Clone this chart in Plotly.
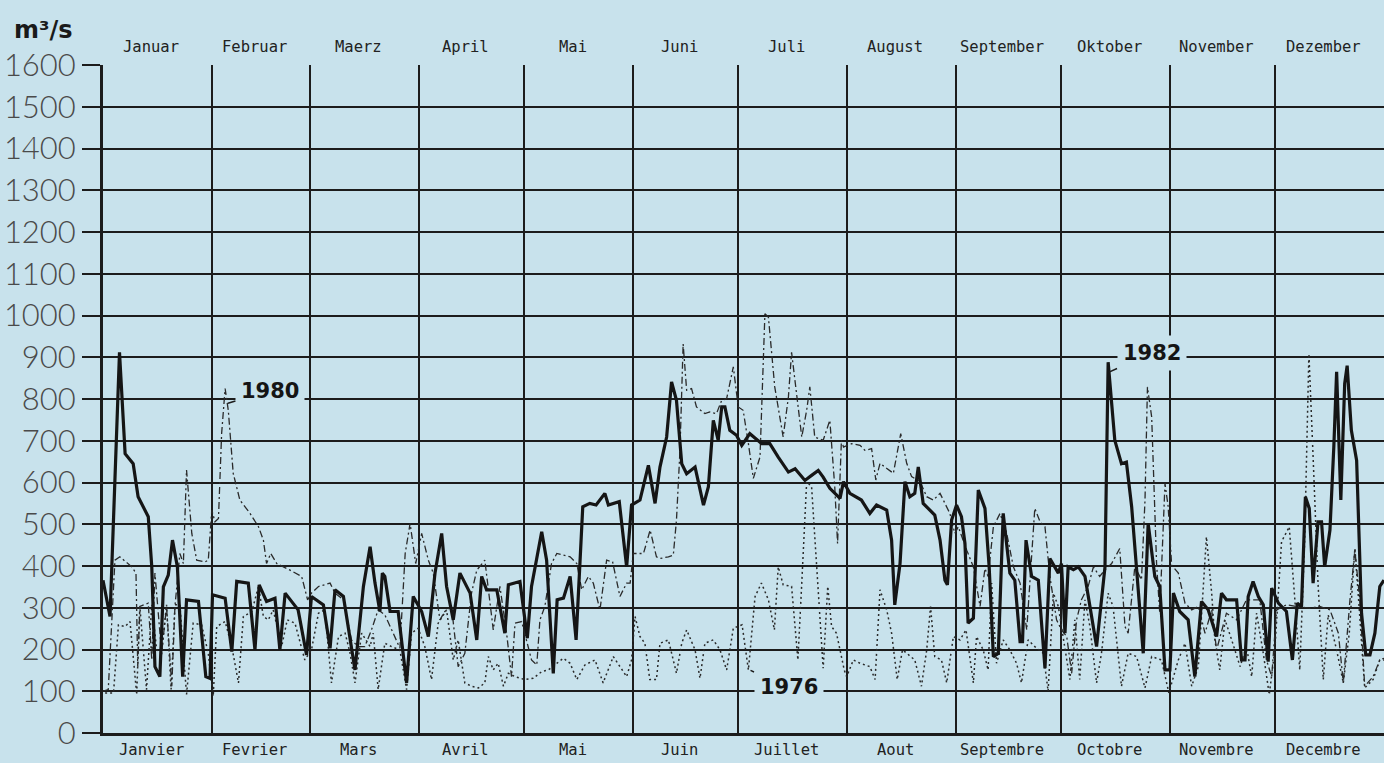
import plotly.graph_objects as go

# ---------------- data ----------------
months_de = ["Januar", "Februar", "Maerz", "April", "Mai", "Juni", "Juli",
             "August", "September", "Oktober", "November", "Dezember"]
months_fr = ["Janvier", "Fevrier", "Mars", "Avril", "Mai", "Juin", "Juillet",
             "Aout", "Septembre", "Octobre", "Novembre", "Decembre"]
month_starts = [0, 31, 59, 90, 120, 151, 181, 212, 243, 273, 304, 334, 365]
y_ticks = list(range(0, 1700, 100))

days_1982 = [0, 2, 4.7, 6.3, 8.6, 10, 12.9, 13.9, 14.8, 16.2, 17.2, 18.6, 19.8, 21.2, 22.7, 23.8,
             27.2, 29.3, 30.5, 31.2, 34.8, 36.7, 38.1, 41.4, 43.3, 44.5, 46.6, 49, 50.4, 51.9,
             55.6, 58, 59.4, 62.8, 64.7, 66.1, 68.5, 71.8, 74.2, 76.1, 77.5, 78.9, 79.6, 80.3,
             81.8, 84.1, 86.5, 88.4, 90.8, 92.7, 94.6, 96.5, 97.9, 99.8, 101.7, 104.6, 106.5,
             107.9, 109.3, 112.2, 114.5, 115.5, 118.8, 120.9, 122.1, 125, 126.4, 128.3, 129.4,
             131.2, 133.1, 134.8, 136.7, 138.7, 140.5, 143, 144, 147.1, 149.2, 150.6, 153, 155.4,
             157.3, 158.7, 160.6, 162, 163.4, 164.9, 166.3, 168.7, 171.1, 172.5, 173.9, 175.3,
             176.3, 177.2, 178.6, 180.5, 182, 184.3, 187.7, 190, 192.4, 195.3, 197.2, 200, 201.9,
             203.8, 205.2, 207.1, 210, 211, 212.8, 214.7, 216.1, 218.5, 220.4, 223.3, 224.7,
             225.6, 227.1, 228.5, 229.9, 231.3, 232.3, 233.7, 237, 238.5, 239.9, 240.6, 241.8,
             243.2, 244.6, 245.6, 246.5, 248, 249.4, 251.3, 252.5, 253.7, 255.1, 256.5, 258.4,
             259.8, 261.3, 262, 263, 264.6, 266.5, 268.4, 269.8, 272.2, 273.1, 274.1, 275, 276.5,
             277.9, 279.8, 283.1, 285.5, 286.4, 288.3, 290.2, 291.6, 293.1, 296.4, 297.8, 299.7,
             301.1, 302.6, 304, 305, 306.8, 309.2, 311.1, 313, 314.9, 317.3, 318.7, 320.1, 323,
             324.4, 325.4, 326.3, 327.7, 329.2, 330.6, 332, 333, 334.9, 337.2, 338.9, 340.3,
             341.5, 342.6, 343.7, 344.8, 346.2, 347.2, 348.1, 349.6, 350.7, 351.5, 352.7, 353.8,
             354.5, 355.7, 357.2, 358.6, 359.8, 361, 362.4, 363.8, 365]
flow_1982 = [366, 279, 912, 669, 645, 566, 518, 398, 159, 135, 350, 378, 462, 398, 135, 319,
             315, 135, 131, 331, 323, 195, 363, 359, 199, 355, 315, 323, 199, 335,
             295, 187, 327, 307, 203, 343, 327, 151, 351, 446, 359, 291, 383, 375,
             291, 291, 120, 327, 291, 231, 383, 478, 351, 271, 383, 335, 223,
             375, 343, 343, 239, 355, 363, 227, 351, 482, 414, 143, 319,
             323, 375, 223, 542, 550, 546, 574, 546, 554, 398, 546, 558, 641,
             550, 637, 709, 841, 797, 645, 621, 637, 546, 590, 749, 701,
             781, 781, 725, 713, 689, 717, 693, 693, 661, 625, 633, 605, 617,
             629, 613, 586, 562, 602, 574, 566, 558, 526, 546, 534, 462,
             307, 406, 602, 566, 574, 637, 550, 522, 462, 366, 355, 510,
             546, 518, 454, 263, 275, 582, 538, 398, 183, 191, 526, 383,
             366, 219, 219, 462, 375, 366, 155, 418, 383, 406, 239, 398, 391,
             398, 375, 207, 398, 888, 701, 645, 649, 542, 191, 502, 375,
             351, 151, 151, 335, 291, 271, 135, 315, 295, 231, 335, 319, 319,
             175, 175, 327, 363, 327, 307, 171, 347, 311, 291, 175, 311,
             303, 566, 538, 359, 506, 506, 398, 486, 685, 865, 558, 837,
             880, 725, 653, 287, 187, 187, 239, 351, 366]

days_1980 = [0, 1.5, 3.4, 4.8, 8.2, 9.4, 9.9, 10.5, 12.9, 13.9, 14.8, 16.7, 18.1, 19.6, 20.5,
             21.9, 22.9, 23.8, 25.3, 26.7, 29.1, 30, 31, 31.9, 32.9, 33.8, 34.8, 35.7, 37.1, 39,
             41.9, 44.3, 45.7, 46.6, 47.8, 49.5, 53.3, 56.6, 58.3, 59.4, 61.4, 64.7, 66.1, 68.5,
             70.8, 72.7, 74.6, 76.5, 78.4, 80.3, 82.7, 84.6, 86.1, 87.5, 89.1, 90.8, 92.7, 94.1,
             96, 97.4, 99.3, 101.2, 103.1, 105, 106.5, 108.8, 111.2, 113.1, 115, 116.4, 117.4,
             119.3, 122.1, 123.6, 124.5, 125.9, 127.8, 129.3, 133.1, 135, 136.4, 138.3, 139.7,
             141.6, 143.5, 145.2, 147.3, 149.2, 150.2, 151.1, 154, 155.9, 157.7, 158.7, 161.1,
             162.5, 163.4, 164.4, 165.3, 166.3, 167.7, 169.1, 171.5, 172.9, 174.8, 176.3, 177.7,
             179.6, 181, 182.4, 183.9, 185.3, 187.2, 188.6, 189.6, 191.4, 193.8, 195.3, 196.2,
             197.2, 199.1, 200.5, 201.4, 202.8, 205.2, 207.1, 208.5, 209.3, 210.4, 211, 213.3,
             215.7, 217.1, 219, 220.2, 221.4, 223.3, 225.2, 227.3, 229, 230.4, 232.8, 234.7,
             236.6, 238.5, 241.3, 242.7, 243.7, 246.1, 248, 249.9, 251.3, 252.2, 253.7, 255.6,
             257.5, 259.4, 261.3, 263.2, 264.6, 265.5, 267, 268.4, 269.8, 271.7, 273.1, 274.6,
             276, 277.4, 278.8, 280.7, 282.2, 284, 285.5, 287.4, 289.7, 291.2, 292.1, 294, 295.9,
             296.9, 297.6, 298.8, 300.2, 301.1, 302.6, 303.5, 304.5, 306.4, 308.3, 310.2, 312.1,
             314, 315.9, 317.3, 320.1, 323, 325.8, 329.6, 331.5, 333, 334.4, 337.2, 340.1, 343.9,
             346.7, 349.6, 352, 353.4, 355.3, 356.7, 358.1, 359.5, 361.9, 363.8, 365]
flow_1980 = [100, 104, 414, 422, 398, 383, 159, 303, 311, 175, 383, 191, 303, 112, 303,
             430, 406, 630, 478, 414, 410, 414, 534, 506, 514, 717, 825, 773, 622, 558,
             526, 494, 462, 406, 430, 406, 390, 375, 319, 335, 351, 359, 335, 319,
             223, 207, 207, 247, 295, 283, 239, 203, 430, 502, 406, 478, 414, 383,
             271, 291, 303, 159, 191, 335, 390, 414, 247, 351, 239, 135, 263,
             267, 175, 163, 271, 303, 406, 430, 422, 406, 343, 375, 359,
             295, 414, 410, 327, 359, 359, 430, 430, 486, 422, 418, 422,
             426, 510, 677, 932, 821, 825, 781, 765, 769, 765, 797, 801,
             877, 781, 773, 693, 610, 661, 1004, 996, 829, 709, 805, 912,
             845, 709, 773, 829, 709, 701, 749, 590, 454, 701, 685, 693,
             689, 677, 681, 606, 646, 634, 622, 717, 646, 614, 602, 566,
             558, 574, 526, 478, 494, 438, 398, 303, 394, 375, 494, 526,
             478, 398, 359, 247, 414, 538, 506, 494, 375, 271, 247, 231,
             143, 271, 319, 351, 398, 375, 391, 406, 442, 255, 239, 398, 367,
             558, 829, 757, 406, 287, 598, 542, 402, 383, 311, 295, 303,
             239, 295, 199, 287, 271, 319, 319, 175, 135, 295, 307, 303, 299,
             303, 295, 239, 120, 319, 438, 319, 112, 135, 175, 179]

days_1976 = [0.6, 3, 4.4, 6.3, 7.7, 8.6, 9.6, 10.5, 12.4, 13.9, 15.3, 16.7, 18.1, 19.4, 20.5,
             21.9, 23.8, 25.7, 28.1, 30, 31.4, 32.4, 34.8, 36.7, 38.6, 40, 42.4, 44.3, 45.7,
             47.1, 48.5, 50.9, 52.5, 54.7, 57.5, 59.4, 61.4, 63.2, 65.1, 67.1, 69, 70.4, 71.8,
             73.7, 76.1, 77, 78.4, 80.3, 82.2, 84.6, 86.5, 87.9, 89.8, 91.7, 93.6, 95.5, 97.9,
             99.8, 101.2, 103.1, 105, 107, 108.8, 109.8, 111.2, 112.6, 114.1, 115.5, 117.4,
             120.2, 122.6, 125, 126.9, 129.3, 131.2, 133.1, 135, 137.3, 140.2, 142.5, 145.4,
             147.3, 149.2, 150.6, 151.6, 153, 154.4, 155.8, 157.7, 158.7, 161.1, 163.4, 164.9,
             166.3, 168.7, 170.1, 171.5, 173.9, 175.8, 177.7, 179.6, 182.1, 183.9, 185.8, 187.6,
             189.6, 191.3, 192.4, 193.8, 196.2, 198, 199.1, 200.5, 201.9, 203.8, 205.2, 206.5,
             207.6, 209, 211.2, 211.9, 213.8, 215.7, 218.5, 220, 221.4, 223.3, 224.7, 226.3,
             227.8, 229, 231.3, 233.2, 234.7, 235.8, 237, 238.9, 240.4, 242.3, 244.2, 245.9, 248,
             248.9, 250.8, 252.2, 253.2, 254.6, 256.5, 258.4, 260.3, 261.7, 263.6, 265.5, 267.9,
             269.3, 270.8, 272.2, 275.5, 276.9, 278.3, 279.8, 281.2, 283.1, 284.5, 286.4, 287.8,
             290.2, 292.1, 294.5, 296.9, 298.8, 301.6, 303.7, 306.4, 308.3, 310.2, 312.1, 314.4,
             315.9, 316.8, 318.2, 319.7, 321.6, 324, 325.8, 327.3, 328.7, 330.6, 332.3, 333.9,
             335.8, 338, 339.6, 341, 342.4, 343.6, 344.8, 346.2, 347.7, 349.1, 351.5, 353.4,
             355.1, 356.7, 357.9, 359.5, 361.9, 363.8, 365]
flow_1976 = [96, 96, 259, 255, 267, 191, 92, 303, 104, 307, 199, 191, 307, 104, 307,
             307, 92, 263, 259, 191, 88, 255, 267, 207, 120, 279, 291, 351, 279,
             271, 295, 207, 271, 263, 175, 199, 287, 295, 120, 231, 239, 191, 120,
             239, 207, 239, 104, 215, 207, 199, 104, 239, 251, 207, 128, 263, 295,
             175, 223, 120, 112, 108, 120, 183, 151, 167, 112, 143, 135,
             128, 131, 147, 151, 167, 179, 167, 128, 163, 175, 120, 183,
             159, 135, 175, 279, 231, 215, 128, 128, 215, 223, 143, 215,
             247, 199, 131, 215, 223, 199, 151, 251, 259, 151, 327, 359,
             319, 247, 398, 355, 351, 175, 359, 602, 590, 351, 155, 351,
             255, 239, 151, 135, 175, 167, 159, 128, 343, 295, 239, 128,
             199, 191, 175, 112, 199, 303, 183, 175, 120, 231, 223, 247, 120,
             231, 199, 151, 359, 167, 223, 199, 167, 120, 223, 207, 191,
             100, 335, 303, 128, 271, 128, 319, 255, 120, 191, 335, 303,
             112, 191, 183, 108, 183, 175, 96, 175, 215, 112, 159, 470,
             335, 223, 151, 271, 223, 159, 207, 135, 287, 191, 92, 199,
             458, 494, 319, 151, 462, 908, 661, 359, 128, 283, 199, 120,
             239, 442, 303, 108, 128, 175, 175]

# ---------------- geometry helpers (pixel -> paper) ----------------
W, H = 1384, 763
L, R, T, B = 103, 0, 65, 30
PW, PH = W - L - R, H - T - B


def px_x(px):
    return (px - L) / PW


def px_y(py):
    return (H - B - py) / PH


BG = "#c8e2ec"
INK = "#1c1c1c"

fig = go.Figure()
fig.add_trace(go.Scatter(x=days_1976, y=flow_1976, mode="lines", name="1976",
                         line=dict(color="#2a2a2a", width=1.5, dash="2px,3px")))
fig.add_trace(go.Scatter(x=days_1980, y=flow_1980, mode="lines", name="1980",
                         line=dict(color="#2a2a2a", width=1.3, dash="7px,3px,2px,3px")))
fig.add_trace(go.Scatter(x=days_1982, y=flow_1982, mode="lines", name="1982",
                         line=dict(color="#151515", width=3.2)))

fig.update_layout(
    width=W, height=H,
    margin=dict(l=L, r=R, t=T, b=B, autoexpand=False),
    paper_bgcolor=BG, plot_bgcolor=BG,
    showlegend=False,
    xaxis=dict(range=[0, 365], tickvals=month_starts[:-1], showticklabels=False,
               showgrid=True, gridcolor=INK, gridwidth=1.5, ticks="",
               showline=True, linecolor=INK, linewidth=3, zeroline=False,
               automargin=False),
    yaxis=dict(range=[0, 1600], tickvals=y_ticks, ticktext=[str(v) for v in y_ticks],
               showgrid=True, gridcolor=INK, gridwidth=2,
               ticks="outside", ticklen=18, tickwidth=2, tickcolor=INK,
               tickfont=dict(family="Lato", size=31, color="#4a4a4a", weight=300),
               showline=True, linecolor=INK, linewidth=3, zeroline=False,
               automargin=False),
)

annotations = []
for i in range(12):
    mid = (month_starts[i] + month_starts[i + 1]) / 2
    annotations.append(dict(x=mid, y=1, xref="x", yref="paper", text=months_de[i],
                            showarrow=False, yanchor="middle", yshift=18, xshift=-6,
                            font=dict(family="DejaVu Sans Mono", size=15.5, color="#222")))
    annotations.append(dict(x=mid, y=0, xref="x", yref="paper", text=months_fr[i],
                            showarrow=False, yanchor="middle", yshift=-17, xshift=-6,
                            font=dict(family="DejaVu Sans Mono", size=15.5, color="#222")))

annotations.append(dict(x=px_x(12), y=px_y(30), xref="paper", yref="paper",
                        text="m³/s", showarrow=False, xanchor="left", yanchor="middle",
                        font=dict(family="DejaVu Sans", size=24, color="#1a1a1a", weight="bold")))

label_font = dict(family="DejaVu Sans", size=21, color="#151515", weight="bold")
annotations.append(dict(x=35.6, y=790, xref="x", yref="y", text="1980", showarrow=True,
                        arrowhead=0, arrowwidth=1.5, arrowcolor=INK, ax=42, ay=-12,
                        bgcolor=BG, borderpad=5, font=label_font))
annotations.append(dict(x=286.8, y=865, xref="x", yref="y", text="1982", showarrow=True,
                        arrowhead=0, arrowwidth=1.5, arrowcolor=INK, ax=42, ay=-19,
                        bgcolor=BG, borderpad=5, font=label_font))
annotations.append(dict(x=184.5, y=150, xref="x", yref="y", text="1976", showarrow=True,
                        arrowhead=0, arrowwidth=1.5, arrowcolor=INK, ax=38, ay=17,
                        bgcolor=BG, borderpad=5, font=label_font))

fig.update_layout(annotations=annotations)
fig.write_html(
    "out.html",
    config={"displayModeBar": False},
    post_script="document.body.style.margin='0';document.body.style.overflow='hidden';"
                "document.body.style.background='" + BG + "';",
)
